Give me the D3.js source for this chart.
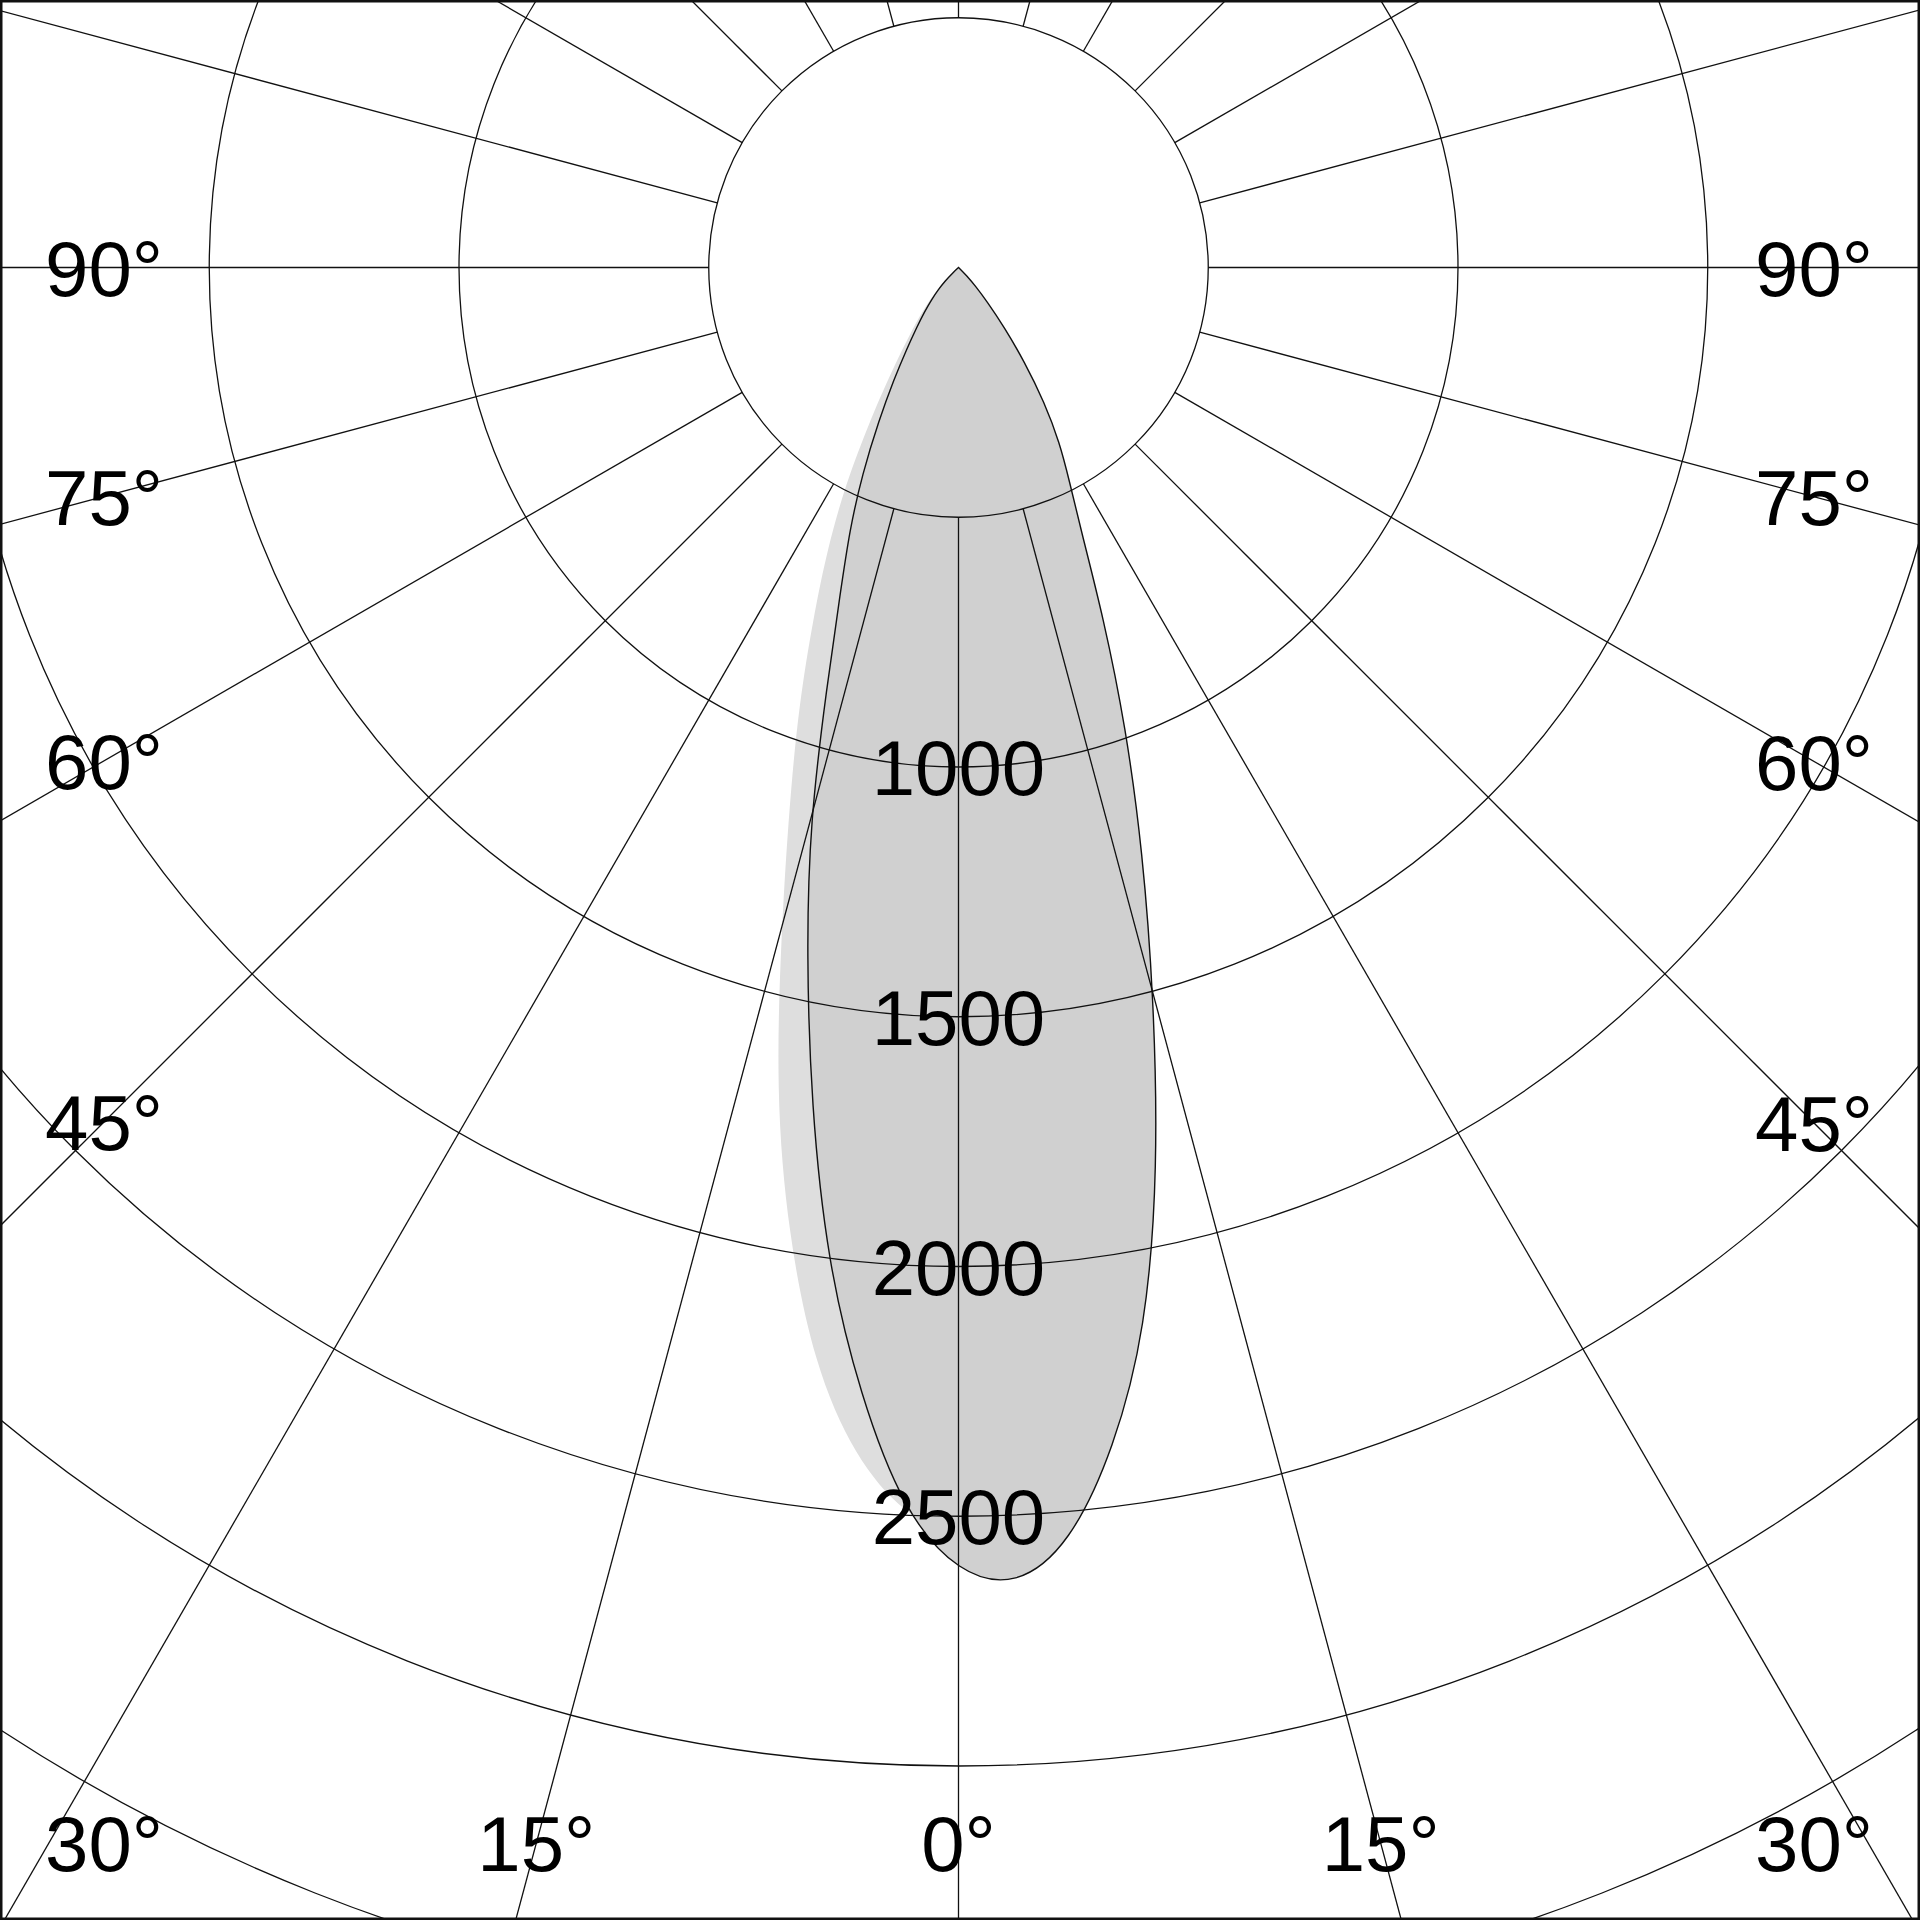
<!DOCTYPE html>
<html>
<head>
<meta charset="utf-8">
<script src="https://cdn.jsdelivr.net/npm/d3@7"></script>
<style>
  body { margin: 0; background: #fff; }
  svg { display: block; }
  text { font-family: "Liberation Sans", Arial, Helvetica, sans-serif; fill: #000; }
</style>
</head>
<body>
<svg id="polar"></svg>
<script>
// luminous intensity (cd) against gamma angle (deg), 0 = straight down
var gammas = [-50,-47.5,-45,-42.5,-40,-37.5,-35,-32.5,-30,-27.5,-25,-22.5,-20,-17.5,-15,-12.5,-10,-7.5,-5,-2.5,
              0,2.5,5,7.5,10,12.5,15,17.5,20,22.5,25,27.5,30,32.5,35,37.5,40,42.5,45,47.5,50];
var intensityDark = [0,14,38,60,84,112,145,192,258,345,455,570,690,875,1150,1405,1700,2010,2265,2495,
                     2615,2645,2565,2385,2160,1846,1510,1226,979,758,580,480,405,320,230,150,88,50,22,5,0];
var intensityLight = [0,18,48,75,105,140,185,255,355,490,620,760,935,1125,1370,1690,1965,2215,2390,2500,
                      2545,2515,2400,2200,1950,1650,1350,1080,850,650,490,380,300,230,170,120,78,45,20,6,0];

var circleValues = [500,1000,1500,2000,2500,3000,3500,4000];
var valueLabels = [1000,1500,2000,2500];
var angleLabels = [-90,-75,-60,-45,-30,-15,0,15,30,45,60,75,90];

var screen = {width:1920, height:1920};
var center = {x:958.5, y:267.5};
// where the angle labels sit
var labelBox = {left:104, right:1814, bottom:1843};

var svg = d3.select("#polar")
    .attr("width", screen.width)
    .attr("height", screen.height);

var rScale = d3.scaleLinear()
    .domain([0,4000])
    .range([0,1998]);

var toRad = function(g) { return Math.PI - g*Math.PI/180; };

var g = svg.append("g")
    .attr("transform","translate("+center.x+","+center.y+")");

var curve = function(values)
{
    var pts = gammas.map(function(d,i){ return [d, values[i]]; });
    return d3.lineRadial()
        .angle(function(d){ return toRad(d[0]); })
        .radius(function(d){ return rScale(d[1]); })
        .curve(d3.curveBasis)(pts) + "Z";
};

// fills first, grid goes over them
g.append("path")
    .attr("d", curve(intensityLight))
    .attr("fill","#dedede")
    .attr("stroke","none");

g.append("path")
    .attr("d", curve(intensityDark))
    .attr("fill","#d0d0d0")
    .attr("stroke","none");

var grid = g.append("g");

grid.selectAll("circle")
    .data(circleValues)
    .enter()
    .append("circle")
    .attr("r", function(d){ return rScale(d); })
    .attr("fill","none")
    .attr("stroke","#111")
    .attr("stroke-width",1.3);

grid.selectAll("line")
    .data(d3.range(0,360,15))
    .enter()
    .append("line")
    .attr("x1", function(d){ return rScale(500)*Math.sin(toRad(d)); })
    .attr("y1", function(d){ return -rScale(500)*Math.cos(toRad(d)); })
    .attr("x2", function(d){ return rScale(4000)*Math.sin(toRad(d)); })
    .attr("y2", function(d){ return -rScale(4000)*Math.cos(toRad(d)); })
    .attr("stroke","#111")
    .attr("stroke-width",1.3);

g.append("path")
    .attr("d", curve(intensityDark))
    .attr("fill","none")
    .attr("stroke","#111")
    .attr("stroke-width",1.4);

// intensity labels down the 0 line
svg.selectAll("text.value")
    .data(valueLabels)
    .enter()
    .append("text")
    .attr("class","value")
    .attr("x", center.x)
    .attr("y", function(d){ return center.y + rScale(d); })
    .attr("dy","0.36em")
    .attr("text-anchor","middle")
    .attr("font-size",78)
    .text(function(d){ return d; });

// angle labels round the edge
var labelPos = function(a)
{
    var t = Math.abs(a)*Math.PI/180;
    var side = a < 0 ? -1 : 1;
    if (Math.abs(a) >= 45)
    {
        var dx = (side < 0 ? center.x - labelBox.left : labelBox.right - center.x);
        return [center.x + side*dx, center.y + dx/Math.tan(t)];
    }
    var x = center.x + side*(labelBox.bottom - center.y)*Math.tan(t);
    x = Math.max(labelBox.left, Math.min(labelBox.right, x));
    return [x, labelBox.bottom];
};

svg.selectAll("text.angle")
    .data(angleLabels)
    .enter()
    .append("text")
    .attr("class","angle")
    .attr("x", function(d){ return labelPos(d)[0]; })
    .attr("y", function(d){ return labelPos(d)[1]; })
    .attr("dy","0.36em")
    .attr("text-anchor","middle")
    .attr("font-size",78)
    .text(function(d){ return Math.abs(d) + "°"; });

svg.append("rect")
    .attr("x",1.25).attr("y",1.25)
    .attr("width",screen.width-2.5).attr("height",screen.height-2.5)
    .attr("fill","none")
    .attr("stroke","#111")
    .attr("stroke-width",2.5);
</script>
</body>
</html>
